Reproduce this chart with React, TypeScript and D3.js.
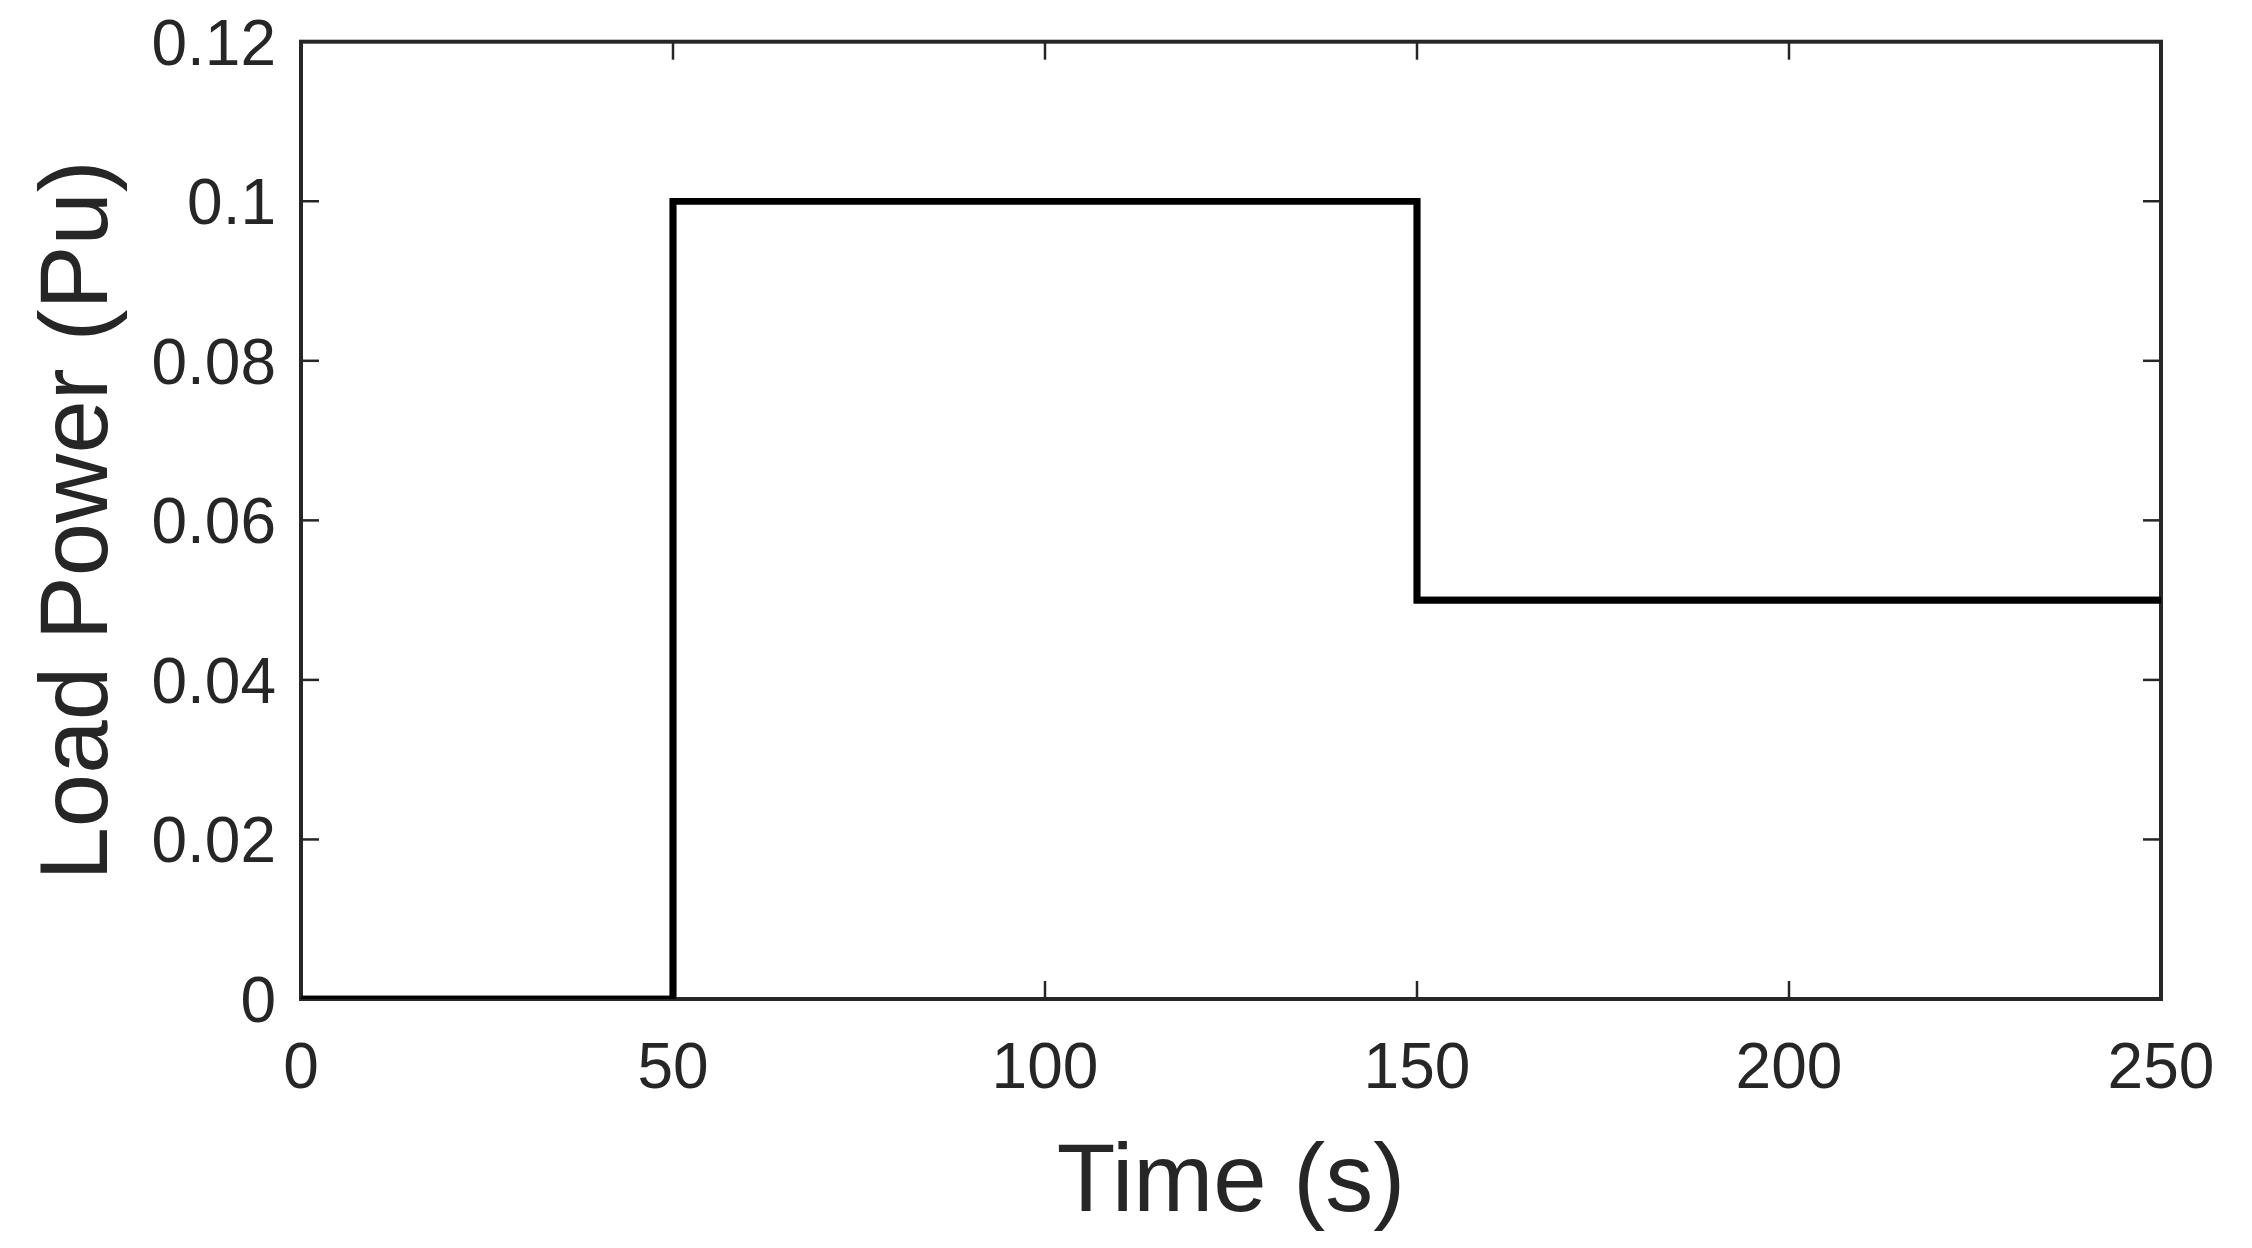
import React from "react";
import * as d3 from "d3";

const timeSteps = [0, 50, 150, 250];
const loadPower = [0, 0.1, 0.05, 0.05];
const xTicks = [0, 50, 100, 150, 200, 250];
const yTicks = [0, 0.02, 0.04, 0.06, 0.08, 0.1, 0.12];
const xLabel = "Time (s)";
const yLabel = "Load Power (Pu)";

const W = 2252;
const H = 1248;
const M = { left: 301, right: 2161, top: 41.7, bottom: 999 };
const AX = "#262626";
const FONT = "'Liberation Sans', Arial, Helvetica, sans-serif";
const TICK = 18;

export default function App() {
  const x = d3.scaleLinear().domain([0, 250]).range([M.left, M.right]);
  const y = d3.scaleLinear().domain([0, 0.12]).range([M.bottom, M.top]);
  const data = timeSteps.map((t, i) => ({ t, v: loadPower[i] }));
  const line = d3
    .line<{ t: number; v: number }>()
    .x((d) => x(d.t))
    .y((d) => y(d.v))
    .curve(d3.curveStepAfter);
  const fmtY = (v: number) => (v === 0 ? "0" : String(+v.toFixed(2)));

  return (
    <svg
      width={W}
      height={H}
      style={{ position: "absolute", left: 0, top: 0, background: "#fff" }}
      fontFamily={FONT}
    >
      <defs>
        <clipPath id="plotclip">
          <rect x={M.left} y={M.top} width={M.right - M.left} height={M.bottom - M.top} />
        </clipPath>
      </defs>
      <rect x={0} y={0} width={W} height={H} fill="#fff" />
      {/* ticks */}
      <g stroke={AX} strokeWidth={2.5}>
        {xTicks.map((t) => (
          <g key={"xt" + t}>
            <line x1={x(t)} x2={x(t)} y1={M.bottom} y2={M.bottom - TICK} />
            <line x1={x(t)} x2={x(t)} y1={M.top} y2={M.top + TICK} />
          </g>
        ))}
        {yTicks.map((t) => (
          <g key={"yt" + t}>
            <line x1={M.left} x2={M.left + TICK} y1={y(t)} y2={y(t)} />
            <line x1={M.right} x2={M.right - TICK} y1={y(t)} y2={y(t)} />
          </g>
        ))}
      </g>
      {/* data */}
      <path
        d={line(data) || ""}
        fill="none"
        stroke="#000"
        strokeWidth={6.7}
        strokeLinejoin="miter"
        clipPath="url(#plotclip)"
      />
      {/* box */}
      <rect
        x={M.left}
        y={M.top}
        width={M.right - M.left}
        height={M.bottom - M.top}
        fill="none"
        stroke={AX}
        strokeWidth={4}
      />
      {/* data on top at bottom edge */}
      <path
        d={line(data) || ""}
        fill="none"
        stroke="#000"
        strokeWidth={6.7}
        clipPath="url(#plotclip)"
      />
      {/* tick labels */}
      <g fill={AX} fontSize={64}>
        {xTicks.map((t) => (
          <text key={"xl" + t} x={x(t)} y={1088} textAnchor="middle">
            {String(t)}
          </text>
        ))}
        {yTicks.map((t) => (
          <text key={"yl" + t} x={276} y={y(t) + 23} textAnchor="end">
            {fmtY(t)}
          </text>
        ))}
      </g>
      <text x={(M.left + M.right) / 2} y={1211} textAnchor="middle" fontSize={96} fill={AX}>
        {xLabel}
      </text>
      <text
        transform={`translate(107, ${(M.top + M.bottom) / 2}) rotate(-90)`}
        textAnchor="middle"
        fontSize={96}
        fill={AX}
      >
        {yLabel}
      </text>
    </svg>
  );
}
